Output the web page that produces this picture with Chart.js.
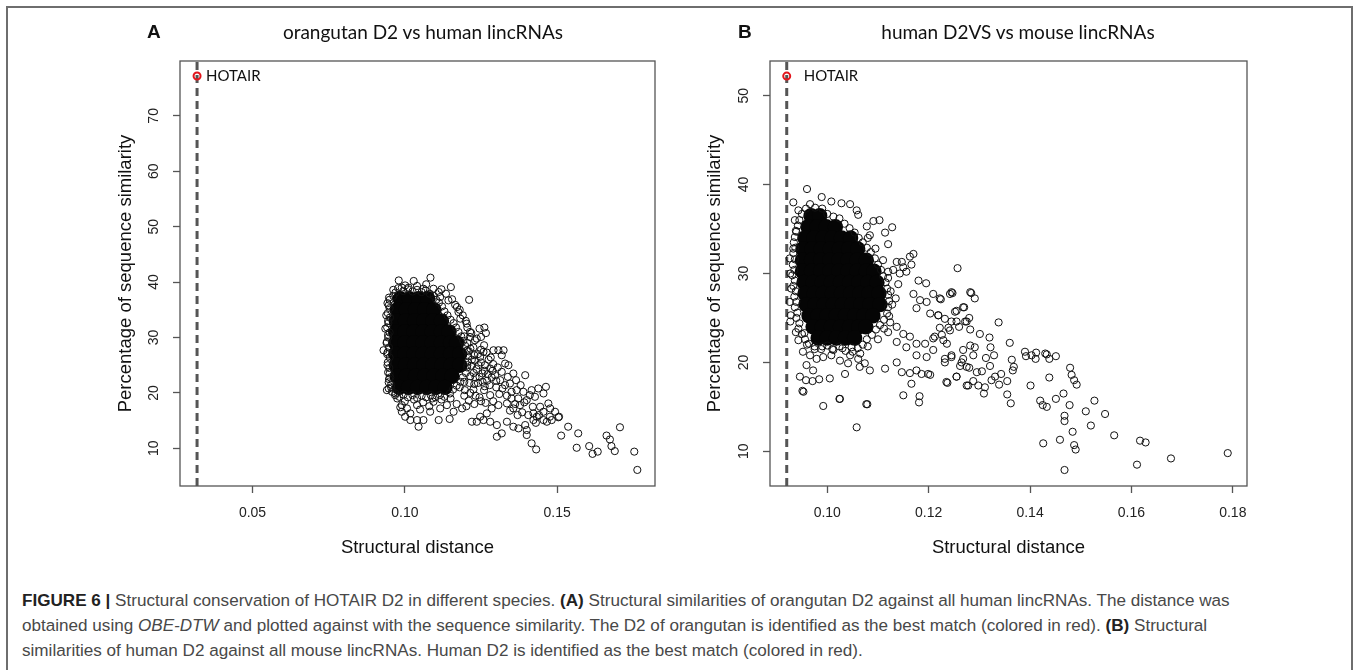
<!DOCTYPE html>
<html>
<head>
<meta charset="utf-8">
<script src="https://cdn.jsdelivr.net/npm/chart.js"></script>
<style>
  body { margin: 0; background: #fff; width: 1358px; height: 670px; overflow: hidden; position: relative; }
  #frame { position: absolute; left: 6px; top: 6px; width: 1343px; height: 720px; border: 2px solid #6e6e6e; }
  canvas { position: absolute; top: 0; }
  .letter { position: absolute; font: bold 19px "Liberation Sans", Arial, sans-serif; color: #111; line-height: 20px; }
  .title { position: absolute; font: 19px Lato, "Open Sans", sans-serif; color: #111; line-height: 22px; white-space: nowrap; transform: translateX(-50%); }
  .cap { position: absolute; left: 22px; font: 17.1px "Liberation Sans", Arial, sans-serif; color: #484848; line-height: 20px; white-space: nowrap; }
  .cap b { color: #222; }
</style>
</head>
<body>
<div id="frame"></div>
<canvas id="chartA" width="680" height="580" style="left:0px"></canvas>
<canvas id="chartB" width="678" height="580" style="left:680px"></canvas>

<div class="letter" style="left:147px;top:22px">A</div>
<div class="title" style="left:423px;top:21px">orangutan D2 vs human lincRNAs</div>
<div class="letter" style="left:738px;top:22px">B</div>
<div class="title" style="left:1018px;top:21px">human D2VS vs mouse lincRNAs</div>

<div class="cap" style="top:591px"><b>FIGURE 6 |</b> Structural conservation of HOTAIR D2 in different species. <b>(A)</b> Structural similarities of orangutan D2 against all human lincRNAs. The distance was</div>
<div class="cap" style="top:616px">obtained using <i>OBE-DTW</i> and plotted against with the sequence similarity. The D2 of orangutan is identified as the best match (colored in red). <b>(B)</b> Structural</div>
<div class="cap" style="top:641px">similarities of human D2 against all mouse lincRNAs. Human D2 is identified as the best match (colored in red).</div>

<script>
// ---- panel A : orangutan D2 vs human lincRNAs ----
const xTicksA = [0.05, 0.10, 0.15];
const yTicksA = [10, 20, 30, 40, 50, 60, 70];
const xRangeA = [0.0262, 0.1821];
const yRangeA = [3.2, 79.9];
const hotairA = [[0.0318, 77.2]];
const vlineA = 0.0318;
// dense centre of the cloud (solid black in the picture)
const coreA = [
  [0.0985,37],[0.1015,37],[0.1045,37],[0.1075,37],
  [0.0975,35],[0.1005,35],[0.1035,35],[0.1065,35],[0.1095,35],
  [0.0972,33],[0.1002,33],[0.1032,33],[0.1062,33],[0.1092,33],[0.1120,33],
  [0.0970,31],[0.1000,31],[0.1030,31],[0.1060,31],[0.1090,31],[0.1120,31],[0.1145,31],
  [0.0970,29],[0.1000,29],[0.1030,29],[0.1060,29],[0.1090,29],[0.1120,29],[0.1150,29],[0.1170,29],
  [0.0970,27],[0.1000,27],[0.1030,27],[0.1060,27],[0.1090,27],[0.1120,27],[0.1150,27],[0.1180,27],
  [0.0972,25],[0.1002,25],[0.1032,25],[0.1062,25],[0.1092,25],[0.1122,25],[0.1152,25],[0.1180,25],
  [0.0975,23],[0.1005,23],[0.1035,23],[0.1065,23],[0.1095,23],[0.1125,23],[0.1155,23],
  [0.0982,21],[0.1012,21],[0.1042,21],[0.1072,21],[0.1102,21],[0.1132,21]
];
// individual circles around the centre and along the tail
const pointsA = [
  [0.0980,40.3],[0.1029,40.2],[0.1084,40.8],[0.1151,39.1],[0.1211,36.8],[0.0969,38.1],[0.1001,39.4],[0.1012,39.0],
  [0.1061,38.8],[0.1094,38.8],[0.1111,38.2],[0.1116,37.3],[0.1143,36.7],[0.1171,35.5],[0.1176,34.6],[0.1182,33.4],
  [0.1203,32.5],[0.1214,31.0],[0.1245,31.6],[0.1261,31.8],[0.1266,30.8],[0.1250,30.1],[0.1214,30.1],
  [0.0939,34.0],[0.0947,35.8],[0.0936,31.6],[0.0941,29.2],[0.0930,27.7],[0.0943,25.0],[0.0950,23.5],[0.0947,20.8],
  [0.0941,20.5],[0.0969,19.9],
  [0.0990,16.6],[0.1001,15.7],[0.1018,15.1],[0.1040,15.1],[0.1045,13.9],[0.1061,15.1],[0.1083,16.6],[0.1111,15.1],
  [0.1147,15.3],[0.1160,16.6],[0.1116,17.2],[0.1018,16.3],[0.0990,17.8],[0.1007,17.2],[0.1040,17.8],[0.1094,18.4],[0.1138,17.8],
  [0.1291,27.7],[0.1307,27.7],[0.1324,27.7],[0.1318,26.8],[0.1329,25.3],[0.1340,25.0],[0.1356,23.5],[0.1395,23.2],
  [0.1258,27.4],[0.1247,26.5],[0.1263,25.0],[0.1280,24.4],[0.1296,23.2],[0.1313,22.3],[0.1329,21.4],[0.1345,21.7],
  [0.1367,20.5],[0.1389,20.2],[0.1416,20.5],[0.1438,20.8],[0.1463,21.1],[0.1455,19.9],[0.1427,19.3],[0.1400,18.7],
  [0.1378,17.8],[0.1356,17.2],[0.1335,18.1],[0.1307,17.8],[0.1285,17.2],[0.1269,16.3],[0.1247,15.7],[0.1220,14.8],
  [0.1236,14.8],[0.1258,15.1],[0.1280,14.8],[0.1302,14.2],[0.1318,12.7],[0.1302,12.1],[0.1335,14.8],[0.1356,13.9],
  [0.1373,13.6],[0.1395,14.2],[0.1400,13.3],[0.1400,12.4],[0.1422,15.1],[0.1433,15.7],[0.1455,16.6],[0.1477,17.2],
  [0.1493,16.6],[0.1506,15.7],[0.1482,15.1],[0.1466,14.8],[0.1416,10.9],[0.1431,9.8],[0.1513,12.3],[0.1536,13.9],
  [0.1569,12.7],[0.1564,10.1],[0.1605,10.4],[0.1616,9.0],[0.1633,9.4],
  [0.1662,12.3],[0.1673,11.6],[0.1678,10.4],[0.1689,9.5],[0.1706,13.8],[0.1753,9.4],[0.1763,6.1],
  [0.1504,15.6],[0.1476,15.7],[0.1444,17.5],[0.1422,16.3],[0.1455,15.1],[0.1471,18.1],
  [0.1205,29.0],[0.1225,28.2],[0.1240,27.0],[0.1220,26.0],[0.1250,25.5],[0.1235,24.3],[0.1215,23.0],[0.1255,23.5],
  [0.1270,22.2],[0.1240,21.8],[0.1225,20.6],[0.1260,20.5],[0.1280,19.6],[0.1245,19.2],[0.1210,18.6],[0.1195,19.5],
  [0.1265,18.2],[0.1290,18.5],[0.1310,19.8],[0.1300,21.0],[0.1285,22.8],[0.1320,20.8],[0.1335,19.5],[0.1350,19.0],
  [0.1362,18.0],[0.1345,16.8],[0.1370,16.0],[0.1385,16.5],[0.1405,16.0],[0.1420,17.5],[0.1440,16.0],[0.1430,14.6],
  [0.0975,19.0],[0.1000,18.5],[0.1030,18.8],[0.1060,18.3],[0.1090,19.0],[0.1120,18.8],[0.1150,19.0],[0.1170,18.0],
  [0.0985,17.4],[0.1050,17.0],[0.1080,17.6],
  [0.0945,33.0],[0.0945,30.5],[0.0942,27.0],[0.0948,22.5],[0.0955,21.5],[0.0950,36.8],[0.0962,37.5],
  [0.0990,39.0],[0.1040,39.3],[0.1070,39.6],[0.1120,38.7],[0.1135,37.9],[0.1155,36.9],[0.1165,35.9],[0.1180,35.0],
  [0.1190,34.0],[0.1200,33.0],[0.1205,31.8],[0.1195,30.2],[0.1210,27.5],[0.1205,25.0],[0.1195,22.0],[0.1180,21.0],
  [0.1230,29.5],[0.1260,28.6],[0.1275,26.0],[0.1290,25.2],[0.1305,24.6],[0.1262,24.0],[0.1278,21.4],[0.1255,22.0],
  [0.1232,22.8],[0.1318,23.8],[0.1338,22.9],[0.1350,20.2],[0.1372,19.0],[0.1392,18.3],[0.1410,19.6],[0.1365,22.3],[0.1380,21.4],
  // edge of the dense centre
  [0.0948,37.2],[0.0943,36.2],[0.0950,35.3],[0.0944,34.4],[0.0951,33.6],[0.0946,32.6],[0.0942,31.8],[0.0950,30.9],
  [0.0945,30.0],[0.0940,29.0],[0.0948,28.2],[0.0943,27.3],[0.0950,26.4],[0.0944,25.5],[0.0949,24.5],[0.0945,23.7],
  [0.0952,22.8],[0.0947,21.9],[0.0955,21.0],[0.0958,20.2],
  [0.0962,38.6],[0.0978,38.9],[0.0995,38.4],[0.1010,38.7],[0.1025,38.3],[0.1040,38.6],[0.1055,38.2],[0.1068,38.5],
  [0.1082,37.9],[0.1095,37.5],[0.1103,36.8],
  [0.1112,36.3],[0.1122,35.6],[0.1130,34.7],[0.1140,34.0],[0.1150,33.2],[0.1160,32.6],[0.1168,31.8],[0.1176,31.0],
  [0.1185,30.2],[0.1192,29.4],[0.1198,28.5],[0.1203,27.6],[0.1208,26.6],[0.1206,25.6],[0.1204,24.6],[0.1200,23.6],
  [0.1190,22.8],[0.1182,22.0],[0.1170,21.3],[0.1158,20.6],[0.1148,19.9],
  [0.0968,19.6],[0.0982,19.3],[0.0996,19.7],[0.1010,19.2],[0.1025,19.6],[0.1040,19.1],[0.1055,19.5],[0.1070,19.2],
  [0.1085,19.6],[0.1100,19.2],[0.1115,19.6],[0.1130,19.3],
  [0.1215,28.0],[0.1228,26.8],[0.1218,24.9],[0.1230,25.8],[0.1242,25.0],[0.1226,23.6],[0.1245,22.9],[0.1212,21.8],
  [0.1228,21.6],[0.1262,21.2],[0.1272,23.4],[0.1288,24.0],[0.1300,22.2],[0.1250,27.8],[0.1268,27.3],[0.1282,26.4],
  [0.1236,29.8],[0.1218,30.8],[0.1197,20.5],[0.1215,20.0],[0.1232,19.5],[0.1250,18.5],[0.1228,18.0],[0.1202,17.6],[0.1188,17.2]
];

// ---- panel B : human D2VS vs mouse lincRNAs ----
const xTicksB = [0.10, 0.12, 0.14, 0.16, 0.18];
const yTicksB = [10, 20, 30, 40, 50];
const xRangeB = [0.0887, 0.1828];
const yRangeB = [6.1, 53.9];
const hotairB = [[0.0920, 52.2]];
const vlineB = 0.0920;
const coreB = [
  [0.0968,36.5],[0.0985,36.5],
  [0.0962,35.25],[0.0980,35.25],[0.0998,35.25],[0.1016,35.25],
  [0.0956,34],[0.0974,34],[0.0992,34],[0.1010,34],[0.1028,34],[0.1046,34],
  [0.0952,32.75],[0.0970,32.75],[0.0988,32.75],[0.1006,32.75],[0.1024,32.75],[0.1042,32.75],[0.1060,32.75],
  [0.0951,31.5],[0.0969,31.5],[0.0987,31.5],[0.1005,31.5],[0.1023,31.5],[0.1041,31.5],[0.1059,31.5],[0.1077,31.5],
  [0.0951,30.25],[0.0969,30.25],[0.0987,30.25],[0.1005,30.25],[0.1023,30.25],[0.1041,30.25],[0.1059,30.25],[0.1077,30.25],[0.1092,30.25],
  [0.0954,29],[0.0972,29],[0.0990,29],[0.1008,29],[0.1026,29],[0.1044,29],[0.1062,29],[0.1080,29],[0.1098,29],
  [0.0956,27.75],[0.0974,27.75],[0.0992,27.75],[0.1010,27.75],[0.1028,27.75],[0.1046,27.75],[0.1064,27.75],[0.1082,27.75],[0.1102,27.75],
  [0.0958,26.5],[0.0976,26.5],[0.0994,26.5],[0.1012,26.5],[0.1030,26.5],[0.1048,26.5],[0.1066,26.5],[0.1084,26.5],[0.1104,26.5],
  [0.0964,25.25],[0.0982,25.25],[0.1000,25.25],[0.1018,25.25],[0.1036,25.25],[0.1054,25.25],[0.1072,25.25],[0.1090,25.25],
  [0.0972,24],[0.0990,24],[0.1008,24],[0.1026,24],[0.1044,24],[0.1062,24],[0.1076,24],
  [0.0982,22.75],[0.1000,22.75],[0.1018,22.75],[0.1036,22.75],[0.1054,22.75]
];
const pointsB = [
  [0.0960,39.5],[0.0933,38.0],[0.0989,38.6],[0.1008,38.1],[0.1028,37.9],[0.1045,37.8],[0.1058,37.1],[0.1061,36.6],
  [0.1091,35.9],[0.1103,36.0],[0.1114,34.6],[0.1128,35.2],[0.1120,33.3],[0.1078,35.3],[0.1084,34.3],[0.0943,37.1],
  [0.0936,36.0],[0.0939,34.7],
  [0.0933,32.8],[0.0926,31.7],[0.0927,30.0],[0.0929,28.3],[0.0926,26.8],[0.0928,25.3],[0.0927,24.6],[0.0938,23.4],[0.0943,22.5],
  [0.1137,31.3],[0.1147,31.3],[0.1163,31.9],[0.1170,32.2],[0.1166,31.0],[0.1143,30.0],[0.1156,30.2],[0.1130,30.4],
  [0.1180,29.2],[0.1195,28.9],[0.1209,27.7],[0.1222,27.2],[0.1245,27.9],[0.1257,30.6],[0.1170,27.7],[0.1183,27.0],
  [0.1196,26.8],[0.1176,26.1],[0.1203,25.5],[0.1219,25.3],[0.1232,24.9],[0.1252,25.7],[0.1268,26.2],[0.1275,24.6],
  [0.1255,24.6],[0.1242,23.6],[0.1226,23.1],[0.1209,22.7],[0.1193,22.1],[0.1176,22.1],[0.1163,22.9],[0.1150,23.2],
  [0.1137,24.0],[0.1124,24.5],[0.1120,23.4],[0.1137,22.3],[0.1156,21.7],[0.1176,20.8],[0.1196,20.6],[0.1232,20.0],
  [0.1245,20.6],[0.1265,20.0],[0.1275,19.5],
  [0.0952,21.2],[0.0966,20.8],[0.0979,20.4],[0.0992,20.6],[0.1008,20.8],[0.1025,20.2],[0.1045,20.8],[0.1061,20.4],
  [0.1074,19.9],[0.1084,19.1],[0.1064,19.5],[0.1041,19.9],[0.0959,19.7],[0.0972,19.1],[0.0946,18.4],[0.0958,18.0],
  [0.0971,17.9],[0.0984,18.1],[0.1005,18.2],[0.1035,18.7],[0.0951,16.8],[0.0992,15.1],[0.1025,15.9],[0.1077,15.3],
  [0.1114,19.3],[0.1137,20.0],[0.1147,18.9],[0.1163,18.8],[0.1176,19.1],[0.1186,18.7],[0.1199,18.7],[0.1150,16.3],
  [0.1182,16.2],[0.1181,15.5],[0.1166,17.6],[0.1235,17.8],[0.1255,18.4],[0.1275,17.4],
  [0.1058,12.7],[0.1079,15.3],[0.1024,15.9],[0.0953,16.7],
  [0.1150,30.7],[0.1247,27.8],[0.1284,27.8],[0.1291,27.2],
  [0.1242,27.7],[0.1282,27.9],[0.1224,27.1],[0.1270,26.2],[0.1255,25.8],[0.1272,24.6],[0.1280,25.0],[0.1282,23.7],
  [0.1260,24.0],[0.1338,24.5],[0.1301,23.2],[0.1320,22.8],[0.1322,21.7],[0.1360,22.2],[0.1329,20.8],[0.1313,20.5],
  [0.1321,19.6],[0.1364,20.3],[0.1368,19.5],[0.1366,19.1],[0.1390,21.2],[0.1392,20.7],[0.1403,20.8],[0.1412,21.1],
  [0.1411,20.4],[0.1430,21.0],[0.1433,20.9],[0.1438,20.4],[0.1451,20.7],[0.1438,18.3],[0.1479,19.4],[0.1482,18.6],
  [0.1487,18.0],[0.1492,17.5],[0.1401,17.4],[0.1355,16.4],[0.1362,15.4],[0.1420,15.7],[0.1425,15.2],[0.1433,15.0],
  [0.1451,15.9],[0.1466,16.5],[0.1478,15.2],[0.1468,14.0],[0.1468,13.4],[0.1527,15.7],[0.1510,14.5],[0.1548,14.2],
  [0.1520,12.9],[0.1484,12.2],[0.1426,10.9],[0.1459,11.3],[0.1487,10.7],[0.1490,10.2],[0.1566,11.8],[0.1617,11.2],
  [0.1628,11.0],[0.1611,8.5],[0.1678,9.2],[0.1790,9.8],[0.1468,7.9],
  [0.1219,25.3],[0.1245,24.6],[0.1222,23.9],[0.1239,23.9],[0.1212,22.9],[0.1229,22.5],[0.1236,22.1],[0.1209,21.4],
  [0.1245,20.8],[0.1232,20.4],[0.1268,21.4],[0.1282,21.9],[0.1291,21.7],[0.1288,20.8],[0.1268,20.4],[0.1262,19.6],
  [0.1280,19.4],[0.1295,18.9],[0.1305,19.0],[0.1288,17.9],[0.1255,18.4],[0.1237,17.7],[0.1278,17.4],[0.1298,17.4],
  [0.1309,16.5],[0.1311,17.2],[0.1324,18.0],[0.1331,18.4],[0.1343,18.7],[0.1355,17.9],[0.1339,17.5],[0.1203,18.6],
  [0.1120,29.5],[0.1125,28.0],[0.1128,26.5],[0.1122,25.2],[0.1112,23.8],[0.1100,22.6],[0.1080,21.8],[0.1135,27.2],
  [0.1140,28.8],[0.1110,31.5],[0.1095,32.8],[0.1080,34.0],[0.1120,30.2],
  [0.0990,21.8],[0.1010,21.5],[0.1030,21.6],[0.1050,21.2],[0.1065,21.0],[0.0975,21.5],[0.0960,22.0],[0.0955,23.3],
  // edge of the dense centre
  [0.0958,37.3],[0.0950,36.7],[0.0945,36.0],[0.0942,35.4],[0.0938,34.8],[0.0936,34.1],[0.0934,33.5],[0.0937,32.9],
  [0.0933,32.3],[0.0936,31.6],[0.0932,31.0],[0.0935,30.4],[0.0931,29.8],[0.0936,29.2],[0.0933,28.6],[0.0938,28.0],
  [0.0935,27.4],[0.0939,26.8],[0.0936,26.2],[0.0941,25.6],[0.0939,25.0],[0.0945,24.4],[0.0943,23.8],[0.0950,23.2],
  [0.0956,22.6],[0.0964,22.1],
  [0.0966,37.8],[0.0976,37.4],[0.0990,37.3],[0.1000,36.7],[0.1012,36.4],[0.1024,36.2],[0.1034,35.6],[0.1044,35.1],
  [0.1054,34.6],[0.1062,34.0],[0.1070,33.5],[0.1078,32.9],[0.1086,32.4],[0.1094,31.7],[0.1100,31.0],[0.1106,30.4],[0.1110,29.7],
  [0.1115,29.0],[0.1118,28.3],[0.1120,27.6],[0.1122,26.9],[0.1120,26.2],[0.1118,25.5],[0.1112,24.8],[0.1104,24.2],
  [0.1096,23.7],[0.1088,23.1],[0.1078,22.6],[0.1070,22.0],[0.1060,21.6],
  [0.0975,21.8],[0.0988,21.5],[0.1000,21.9],[0.1012,21.4],[0.1024,21.8],[0.1036,21.3],[0.1048,21.7]
];

const FONT = '"Liberation Sans", Arial, sans-serif';
Chart.defaults.font.family = FONT;
Chart.defaults.color = '#222';

const toXY = arr => arr.map(p => ({x: p[0], y: p[1]}));

// R-like frame: box round the plot, y labels turned 90 degrees, HOTAIR label
const rFrame = {
  id: 'rFrame',
  afterDatasetsDraw(chart, args, opts) {
    const {ctx, chartArea: a, scales} = chart;
    ctx.save();
    ctx.strokeStyle = '#555';
    ctx.lineWidth = 1.3;
    ctx.strokeRect(a.left, a.top, a.right - a.left, a.bottom - a.top);

    const ys = scales.y;
    ctx.fillStyle = '#222';
    ctx.font = '14px ' + FONT;
    ctx.textAlign = 'center';
    ctx.textBaseline = 'middle';
    ys.ticks.forEach(t => {
      ctx.save();
      ctx.translate(a.left - 25.5, ys.getPixelForValue(t.value));
      ctx.rotate(-Math.PI / 2);
      ctx.fillText(String(t.value), 0, 0);
      ctx.restore();
    });

    const pt = chart.getDatasetMeta(0).data[0];
    ctx.font = '15px Lato, "Open Sans", sans-serif';
    ctx.textAlign = 'left';
    ctx.fillStyle = '#111';
    ctx.fillText('HOTAIR', pt.x + opts.dx, pt.y + 0.5);
    ctx.restore();
  }
};

function makePanel(id, p) {
  return new Chart(document.getElementById(id), {
    type: 'scatter',
    data: {
      datasets: [
        { label: 'HOTAIR', data: toXY(p.hotair), pointRadius: 3.5, borderWidth: 2,
          borderColor: '#e3141b', backgroundColor: 'rgba(255,255,255,0)' },
        { label: 'lincRNAs', data: toXY(p.points), pointRadius: 3.6, borderWidth: 1,
          borderColor: '#111', backgroundColor: 'rgba(255,255,255,0)' },
        { label: 'lincRNAs (dense)', data: toXY(p.core), pointRadius: 7.7, borderWidth: 0,
          borderColor: '#000', backgroundColor: '#050505' },
        { type: 'line', label: 'best match', data: [{x: p.vline, y: p.yRange[0]}, {x: p.vline, y: p.yRange[1]}],
          borderColor: '#555', borderWidth: 3, borderDash: [8, 5], pointRadius: 0 }
      ]
    },
    options: {
      responsive: false,
      animation: false,
      events: [],
      layout: { padding: { left: 0, right: p.padRight, top: 61, bottom: 0 } },
      plugins: { legend: { display: false }, tooltip: { enabled: false }, rFrame: { dx: p.labelDx } },
      scales: {
        x: {
          type: 'linear', min: p.xRange[0], max: p.xRange[1],
          afterBuildTicks: s => { s.ticks = p.xTicks.map(v => ({value: v})); },
          ticks: { callback: v => v.toFixed(2), font: { size: 14 }, color: '#222', padding: 12, maxRotation: 0, autoSkip: false },
          grid: { drawOnChartArea: false, tickLength: 7, tickColor: '#555', tickWidth: 1.3 },
          border: { display: false },
          title: { display: true, text: 'Structural distance', font: { size: 18.5 }, color: '#111', padding: { top: 0, bottom: 21 } },
          afterFit: s => { s.height = 94; }
        },
        y: {
          type: 'linear', min: p.yRange[0], max: p.yRange[1],
          afterBuildTicks: s => { s.ticks = p.yTicks.map(v => ({value: v})); },
          ticks: { display: false },
          grid: { drawOnChartArea: false, tickLength: 7, tickColor: '#555', tickWidth: 1.3 },
          border: { display: false },
          title: { display: true, text: 'Percentage of sequence similarity', font: { size: 18.5 }, color: '#111', padding: { top: p.titlePad, bottom: 0 } },
          afterFit: s => { s.width = p.yWidth; }
        }
      }
    },
    plugins: [rFrame]
  });
}

makePanel('chartA', { hotair: hotairA, points: pointsA, core: coreA, vline: vlineA,
  xRange: xRangeA, yRange: yRangeA, xTicks: xTicksA, yTicks: yTicksA,
  yWidth: 180, padRight: 25, titlePad: 114.5, labelDx: 9 });
makePanel('chartB', { hotair: hotairB, points: pointsB, core: coreB, vline: vlineB,
  xRange: xRangeB, yRange: yRangeB, xTicks: xTicksB, yTicks: yTicksB,
  yWidth: 90, padRight: 111, titlePad: 23.5, labelDx: 17 });
</script>
</body>
</html>
